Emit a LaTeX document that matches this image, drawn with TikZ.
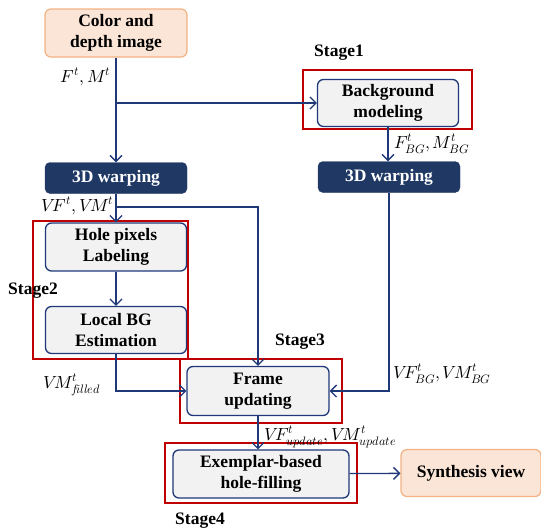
\documentclass[tikz,border=0pt]{standalone}
\usepackage{xcolor}
\usepackage{tikz}
\usepackage{amsmath}
\usepackage{fontspec}
\usepackage{unicode-math}
\setmainfont{Liberation Serif}
\setmathfont{Latin Modern Math}
\definecolor{navyline}{RGB}{31, 56, 120}
\definecolor{navybox}{RGB}{31, 56, 100}
\definecolor{peachfill}{RGB}{251, 229, 214}
\definecolor{peachdraw}{RGB}{244, 177, 131}
\definecolor{grayfill}{RGB}{242, 242, 242}
\definecolor{stagered}{RGB}{192, 0, 0}
\usetikzlibrary{arrows.meta, positioning, calc}

\begin{document}
\begin{tikzpicture}[x=1pt, y=-1pt,
    procbox/.style={draw=navyline, fill=grayfill, line width=1.3pt, rounded corners=6pt,
          align=center, inner sep=0pt, font=\fontsize{17.5}{21}\selectfont\bfseries},
    warpbox/.style={draw=navybox, fill=navybox, text=white, rounded corners=5pt,
          align=center, inner sep=0pt, minimum width=142pt, minimum height=31pt,
          font=\fontsize{17.5}{21}\selectfont\bfseries},
    peachbox/.style={draw=peachdraw, fill=peachfill, line width=1.2pt, rounded corners=6pt,
          align=center, inner sep=0pt, font=\fontsize{17.5}{21}\selectfont\bfseries},
    stagebox/.style={draw=stagered, line width=1.6pt},
    stagelbl/.style={font=\fontsize{17.5}{21}\selectfont\bfseries, inner sep=0pt},
    arr/.style={draw=navyline, line width=1.3pt, -{Straight Barb[length=6pt, width=12pt]}},
    lbl/.style={font=\fontsize{17.5}{20}\selectfont, inner sep=0pt}]

    \useasboundingbox (0,0) rectangle (541,531);

    % boxes
    \node[peachbox, minimum width=142pt, minimum height=48pt] (input) at (116,33) {Color and\\depth image};
    \node[warpbox] (warpL) at (116,178) {3D warping};
    \node[procbox, minimum width=141pt, minimum height=47pt] (bgmod) at (388,103) {Background\\modeling};
    \node[warpbox] (warpR) at (389,177) {3D warping};
    \node[procbox, minimum width=141pt, minimum height=48pt] (hole) at (116,247) {Hole pixels\\Labeling};
    \node[procbox, minimum width=141pt, minimum height=47pt] (localbg) at (116,330) {Local BG\\Estimation};
    \node[procbox, minimum width=142pt, minimum height=49pt] (frame) at (258,391) {Frame\\updating};
    \node[procbox, minimum width=176pt, minimum height=48pt] (exemplar) at (261,474) {Exemplar-based\\hole-filling};
    \node[peachbox, minimum width=140pt, minimum height=47pt] (synth) at (471,473) {Synthesis view};

    % stage frames
    \draw[stagebox] (303,70) rectangle (472,129);
    \draw[stagebox] (33,221) rectangle (188,359);
    \draw[stagebox] (180,359) rectangle (342,423);
    \draw[stagebox] (165,443) rectangle (357,503);
    \node[stagelbl, anchor=west] (stageone) at (314,53) {Stage1};
    \node[stagelbl, anchor=west] (stagetwo) at (8,291) {Stage2};
    \node[stagelbl, anchor=west] (stagethree) at (275,342) {Stage3};
    \node[stagelbl, anchor=west] (stagefour) at (175,521) {Stage4};

    % connectors
    \coordinate (vfsplit) at (116,207);
    \draw[arr] (input) -- (warpL);
    \draw[arr] (input.south |- bgmod.west) -- (bgmod.west);
    \draw[arr] (bgmod.south) -- (bgmod.south |- warpR.north);
    \draw[arr] (warpL) -- (hole);
    \draw[arr] (vfsplit) -| (frame.north);
    \draw[arr] (hole) -- (localbg);
    \draw[arr] (localbg.south) |- (frame.west);
    \draw[arr] (warpR.south) |- (frame.east);
    \draw[arr] (frame.south) -- (frame.south |- exemplar.north);
    \draw[arr] (exemplar) -- (synth);

    % labels
    \node[lbl, anchor=east] (lblin) at (111,77) {$F^t, M^t$};
    \node[lbl, anchor=west] (lblbg) at (394,144) {$F^t_{BG}, M^t_{BG}$};
    \node[lbl, anchor=east] (lblvf) at (114,206) {$V\!F^t, V\!M^t$};
    \node[lbl, anchor=west] (lblfill) at (43,385) {$V\!M^t_{f\!illed}$};
    \node[lbl, anchor=west] (lblwbg) at (393,374) {$V\!F^t_{BG}, V\!M^t_{BG}$};
    \node[lbl, anchor=west] (lblupd) at (264,437) {$V\!F^t_{update}, V\!M^t_{update}$};
\end{tikzpicture}
\end{document}
